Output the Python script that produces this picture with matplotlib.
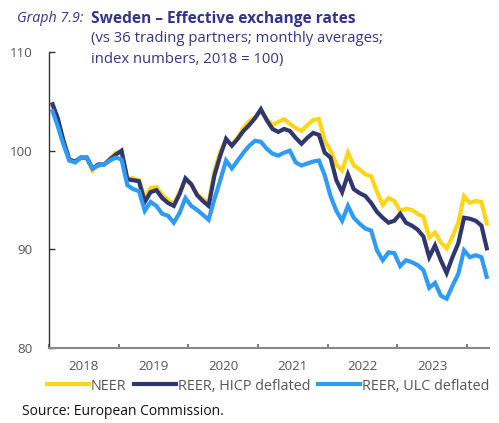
import numpy as np
import matplotlib
matplotlib.use("Agg")
import matplotlib.pyplot as plt
from matplotlib.lines import Line2D

# monthly averages, Jan 2018 .. Apr 2024
neer = [104.7, 103.1, 100.9, 99.0, 98.9, 99.3, 99.2, 98.0, 98.5, 98.6, 99.2, 99.8,
        99.7, 97.2, 97.2, 97.0, 95.2, 96.2, 96.3, 95.5, 95.0, 94.6, 95.8, 97.0,
        96.6, 95.6, 95.1, 94.7, 97.9, 99.9, 101.0, 100.6, 101.3, 102.3, 103.0, 103.4,
        104.0, 103.2, 102.6, 102.9, 103.2, 102.7, 102.3, 102.0, 102.6, 103.1, 103.2, 101.0,
        100.0, 98.6, 98.0, 99.8, 98.5, 98.1, 97.6, 97.4, 95.8, 94.5, 95.2, 94.9,
        93.9, 94.1, 94.0, 93.6, 93.3, 91.2, 91.7, 90.7, 90.1, 91.3, 92.7, 95.4,
        94.7, 94.9, 94.8, 92.4]
reer_hicp = [104.9, 103.3, 101.0, 99.1, 98.9, 99.3, 99.3, 98.2, 98.6, 98.6, 99.1, 99.6,
             100.0, 97.1, 97.0, 96.9, 94.8, 95.8, 96.0, 95.2, 94.7, 94.4, 95.6, 97.2,
             96.6, 95.5, 94.9, 94.4, 97.5, 99.5, 101.2, 100.5, 101.2, 102.0, 102.6, 103.3,
             104.2, 103.1, 102.2, 101.9, 102.2, 102.0, 101.3, 100.7, 101.3, 101.8, 101.6, 99.8,
             99.3, 97.0, 95.8, 97.6, 96.1, 95.7, 95.4, 94.7, 93.8, 93.2, 92.7, 92.9,
             93.6, 92.7, 92.4, 92.0, 91.3, 89.2, 90.4, 88.9, 87.6, 89.2, 90.6, 93.2,
             93.1, 92.9, 92.4, 89.9]
reer_ulc = [104.2, 102.5, 100.6, 99.0, 98.8, 99.3, 99.3, 98.2, 98.5, 98.6, 99.0, 99.3,
            99.1, 96.5, 96.1, 95.9, 93.9, 94.8, 94.4, 93.6, 93.4, 92.7, 93.7, 95.2,
            94.4, 94.0, 93.5, 93.0, 95.1, 97.0, 99.0, 98.2, 99.0, 99.8, 100.5, 101.0,
            100.9, 100.2, 99.7, 99.5, 99.8, 100.0, 98.8, 98.5, 98.7, 98.9, 99.0, 97.5,
            95.4, 93.9, 92.9, 94.4, 93.2, 92.6, 92.1, 91.9, 89.9, 88.9, 89.7, 89.6,
            88.3, 88.9, 88.7, 88.4, 87.9, 86.1, 86.6, 85.3, 85.0, 86.3, 87.5, 89.9,
            89.2, 89.4, 89.2, 87.0]
years = ["2018", "2019", "2020", "2021", "2022", "2023"]
series_names = ["NEER", "REER, HICP deflated", "REER, ULC deflated"]

colors = ["#FFD617", "#2F3670", "#2E9BF7"]
title_col = "#33348F"
plt.rcParams["font.family"] = ["Open Sans", "DejaVu Sans"]

fig = plt.figure(figsize=(4.99, 4.23), dpi=100)
ax = fig.add_axes([49 / 499, 1 - 348 / 423, 440 / 499, 296 / 423])

# x in months since Jan 2018, points mid-month
x = np.arange(len(neer)) + 0.5
for vals, c in zip([neer, reer_hicp, reer_ulc], colors):
    ax.plot(x, vals, color=c, lw=3.0, solid_joinstyle="miter", solid_capstyle="butt")

ax.set_xlim(0, 75.8)
ax.set_ylim(80, 110)
ax.set_yticks([80, 90, 100, 110])
ax.set_xticks(np.arange(0, 73, 12))
ax.set_xticklabels([])
ax.set_xticks(np.arange(6, 72, 12), minor=True)
ax.set_xticklabels(years, minor=True)
ax.tick_params(axis="x", which="major", direction="in", length=3, width=1.2, color="#666666")
ax.tick_params(axis="x", which="minor", length=0, pad=9, labelsize=9.6, labelcolor="#555555")
ax.tick_params(axis="y", direction="in", length=4, width=1, color="#333333",
               pad=12, labelsize=9.6, labelcolor="#555555")
for s in ["top", "right"]:
    ax.spines[s].set_visible(False)
ax.spines["left"].set_color("#333333")
ax.spines["left"].set_linewidth(1.0)
ax.spines["bottom"].set_color("#888888")
ax.spines["bottom"].set_linewidth(1.5)

fig.text(17 / 499, 1 - 19 / 423, "Graph 7.9:", color=title_col, fontsize=10.3,
         style="italic", va="center")
fig.text(91 / 499, 1 - 19 / 423, "Sweden \u2013 Effective exchange rates", color=title_col,
         fontsize=11.2, fontweight="bold", va="center")
fig.text(91 / 499, 1 - 39 / 423, "(vs 36 trading partners; monthly averages;", color=title_col,
         fontsize=10.7, va="center")
fig.text(91 / 499, 1 - 59 / 423, "index numbers, 2018 = 100)", color=title_col,
         fontsize=10.7, va="center")

handles = [Line2D([], [], color=c, lw=3.0) for c in colors]
fig.legend(handles, series_names, loc="center left", bbox_to_anchor=(47 / 499, 1 - 386 / 423),
           ncol=3, frameon=False, fontsize=10.4, handlelength=2.9, handletextpad=0.15,
           columnspacing=0.5, borderaxespad=0, borderpad=0, labelcolor="#555555")
fig.text(22 / 499, 1 - 411 / 423, "Source: European Commission.", fontsize=10,
         color="#111111", va="center")

fig.savefig("out.png", dpi=100)
